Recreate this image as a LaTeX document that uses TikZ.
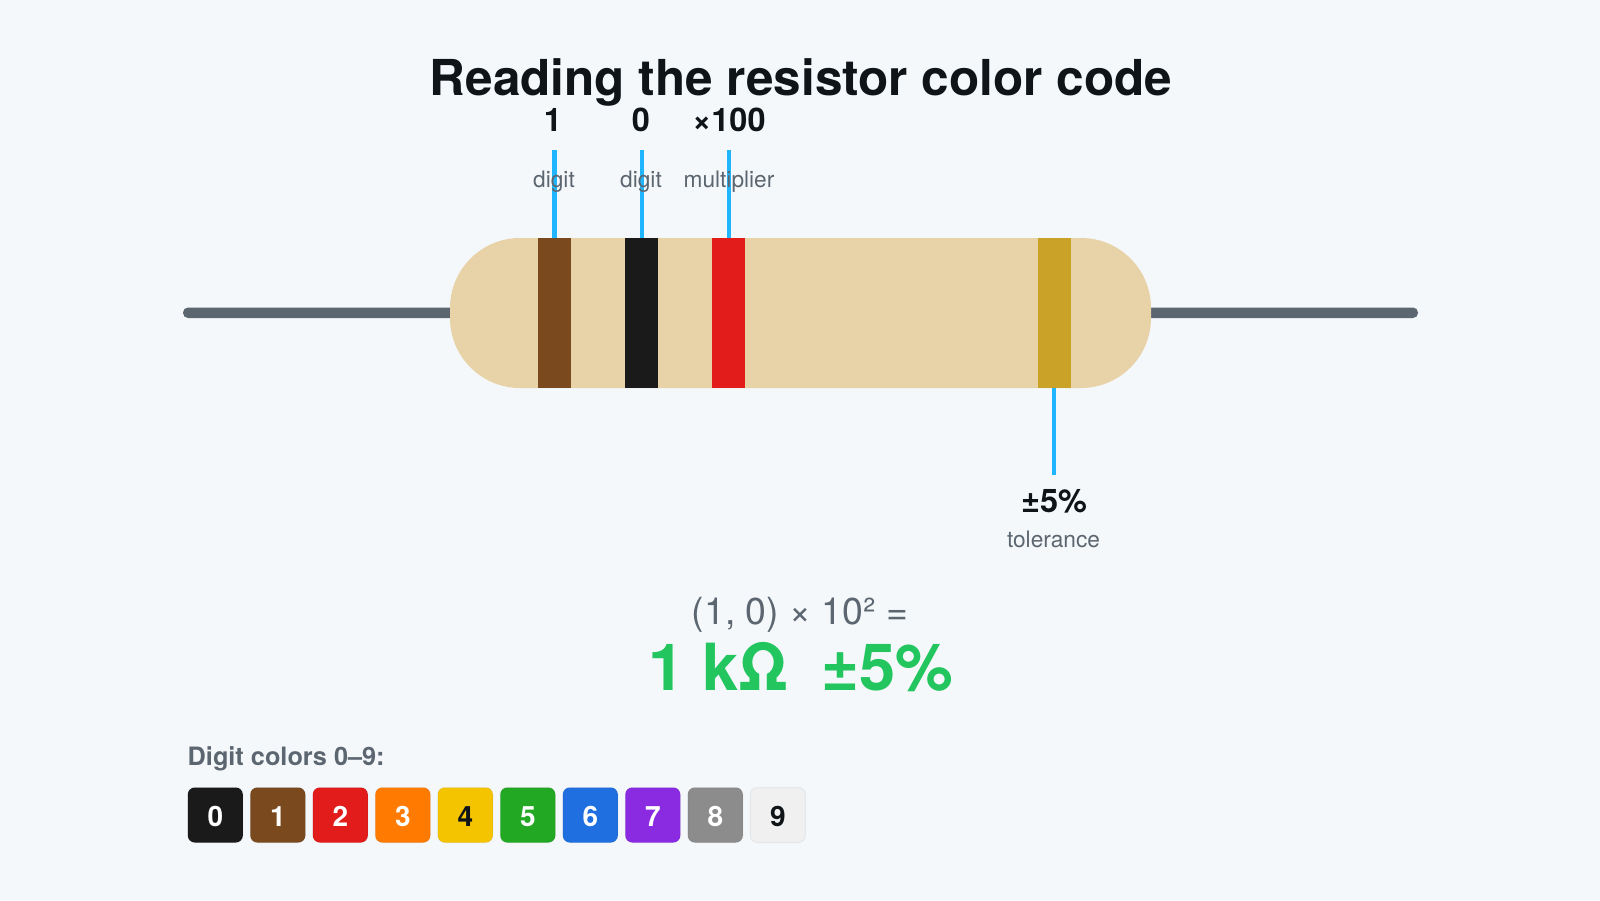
\documentclass[tikz,border=0pt]{standalone}
\usepackage{fontspec}
\setmainfont{TeX Gyre Heros}
\definecolor{paper}{HTML}{F4F8FB}
\definecolor{ink}{HTML}{0F1419}
\definecolor{slate}{HTML}{5C6670}
\definecolor{leadgrey}{HTML}{5C6670}
\definecolor{bodytan}{HTML}{E8D3A8}
\definecolor{pointer}{HTML}{1FB6FF}
\definecolor{resultgreen}{HTML}{22C55E}
\definecolor{cBlack}{HTML}{1A1A1A}
\definecolor{cBrown}{HTML}{7A4A1E}
\definecolor{cRed}{HTML}{E21B1B}
\definecolor{cOrange}{HTML}{FF7A00}
\definecolor{cYellow}{HTML}{F5C400}
\definecolor{cGreen}{HTML}{22A822}
\definecolor{cBlue}{HTML}{1F6FE0}
\definecolor{cViolet}{HTML}{8A2BE2}
\definecolor{cGrey}{HTML}{8C8C8C}
\definecolor{cWhite}{HTML}{F0F0F0}
\definecolor{cGold}{HTML}{C9A227}
\newcommand{\fs}[1]{\fontsize{#1}{#1}\selectfont}
\tikzset{
  px/.style={x=1pt,y=-1pt},
  leadwire/.style={fill=leadgrey,draw=none,rounded corners=5pt},
  band/.style={draw=none,minimum width=33pt,minimum height=150pt,inner sep=0pt,outer sep=0pt},
  pointerline/.style={draw=pointer,line width=4.5pt},
  valuelabel/.style={anchor=base,inner sep=0pt,text=ink,font=\fs{32.5}\bfseries},
  rolelabel/.style={anchor=base,inner sep=0pt,text=slate,font=\fs{22.7}},
  swatch/.style={draw=black,draw opacity=0.05,line width=1pt,rounded corners=7pt,minimum width=55pt,minimum height=55pt,inner sep=0pt},
  swatchnum/.style={anchor=base,inner sep=0pt,font=\fs{28}\bfseries},
}
\begin{document}
\begin{tikzpicture}[px]
\useasboundingbox (0,0) rectangle (1600,900);
\fill[paper] (0,0) rectangle (1600,900);

% title
\node[anchor=base,inner sep=0pt,text=ink,font=\fs{49.5}\bfseries] (title) at (801,95) {Reading the resistor color code};

% leads and body
\fill[leadwire] (183,307.5) rectangle (1418,318);
\fill[bodytan,rounded corners=70pt] (450,238) rectangle (1151,388);

% colour bands
\node[band,fill=cBrown] (b1) at (554.4,313) {};
\node[band,fill=cBlack] (b2) at (641.8,313) {};
\node[band,fill=cRed] (b3) at (728.9,313) {};
\node[band,fill=cGold] (b4) at (1054.2,313) {};

% callouts
\node[valuelabel] (v1) at (553,131) {1};
\node[valuelabel] (v2) at (641,131) {0};
\node[valuelabel] (v3) at (729,131) {×100};
\coordinate (p1) at (554.4,150);
\coordinate (p2) at (641.8,150);
\coordinate (p3) at (728.9,150);
\coordinate (p4) at (1054.2,475);
\draw[pointerline] (p1) -- (b1.north);
\draw[pointerline] (p2) -- (b2.north);
\draw[pointerline] (p3) -- (b3.north);
\draw[pointerline] (b4.south) -- (p4);
\node[rolelabel] (r1) at (554,187) {digit};
\node[rolelabel] (r2) at (641,187) {digit};
\node[rolelabel] (r3) at (729,187) {multiplier};
\node[valuelabel] (v4) at (1054,512) {±5\%};
\node[rolelabel] (r4) at (1053.5,547) {tolerance};

% result
\node[anchor=base,inner sep=0pt,text=slate,font=\fs{37.4}] (formula) at (800,624) {(1, 0) × 10² =};
\node[anchor=base,inner sep=0pt,text=resultgreen,font=\fs{65}\bfseries] (value) at (801,690) {1 kΩ\hspace{0.5em}±5\%};

% digit legend
\node[anchor=base west,inner sep=0pt,text=slate,font=\fs{25.3}\bfseries] (legend) at (187.5,765) {Digit colors 0–9:};
\foreach \i/\c/\t in {0/cBlack/white,1/cBrown/white,2/cRed/white,3/cOrange/white,4/cYellow/ink,5/cGreen/white,6/cBlue/white,7/cViolet/white,8/cGrey/white,9/cWhite/ink}{
  \node[swatch,fill=\c] (s\i) at ({215.3+62.5*\i},815) {};
  \node[swatchnum,text=\t] (n\i) at ({215.3+62.5*\i},826) {\i};
}
\end{tikzpicture}
\end{document}
